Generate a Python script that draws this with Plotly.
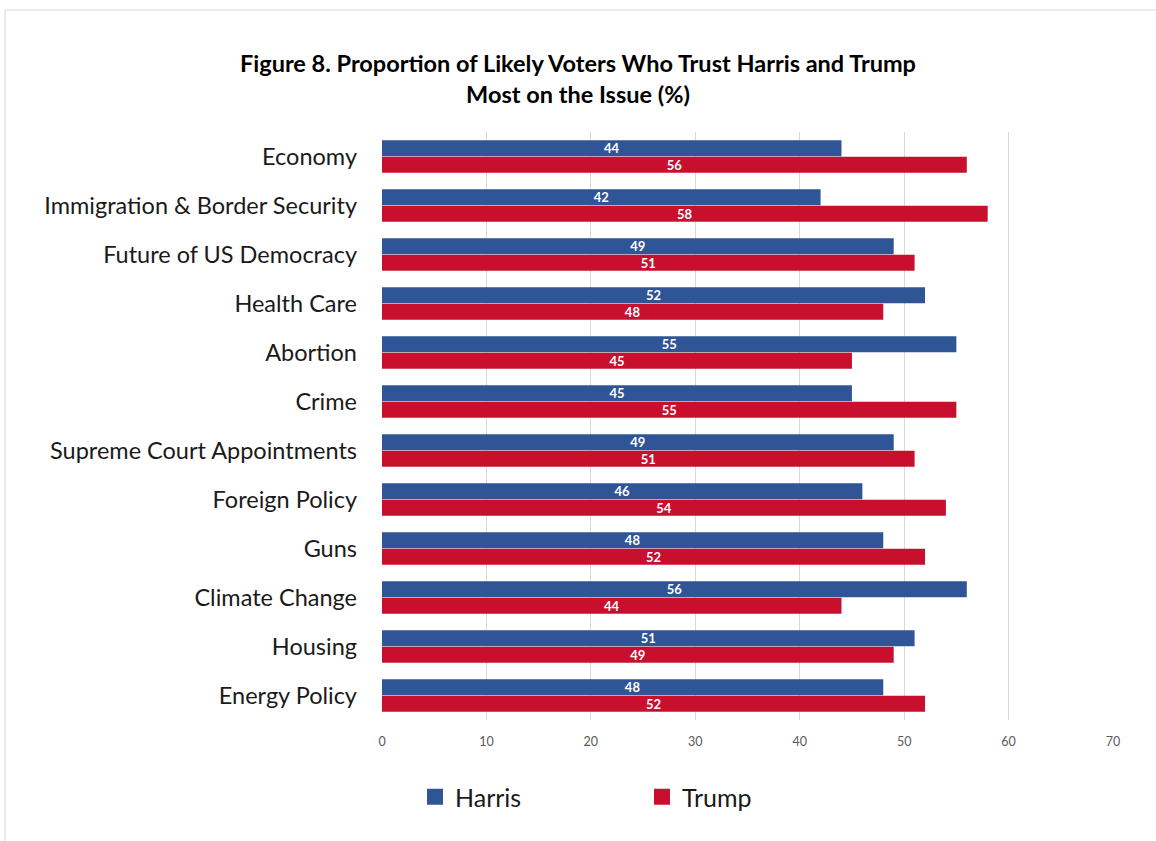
import plotly.graph_objects as go

issues = [
    "Economy", "Immigration & Border Security", "Future of US Democracy",
    "Health Care", "Abortion", "Crime", "Supreme Court Appointments",
    "Foreign Policy", "Guns", "Climate Change", "Housing", "Energy Policy",
]
harris = [44, 42, 49, 52, 55, 45, 49, 46, 48, 56, 51, 48]
trump = [56, 58, 51, 48, 45, 55, 51, 54, 52, 44, 49, 52]
x_ticks = [0, 10, 20, 30, 40, 50, 60, 70]

HARRIS_BLUE = "#2F5597"
TRUMP_RED = "#C8102E"
FONT = "Lato, Open Sans, sans-serif"

W, H = 1156, 841
ML, MR, MT, MB = 382, 43, 132, 121

fig = go.Figure()
for name, vals, color in [("Harris", harris, HARRIS_BLUE), ("Trump", trump, TRUMP_RED)]:
    fig.add_trace(go.Bar(
        name=name, y=issues, x=vals, orientation="h",
        marker=dict(color=color, line=dict(width=0)),
        text=[str(v) for v in vals], textposition="inside", textangle=0,
        insidetextanchor="middle", constraintext="none",
        textfont=dict(family=FONT, size=13, color="white", weight="bold"),
        showlegend=False,
    ))

# legend entries drawn as square swatches
for name, color in [("Harris", HARRIS_BLUE), ("Trump", TRUMP_RED)]:
    fig.add_trace(go.Scatter(
        name=name, x=[None], y=[None], mode="markers",
        marker=dict(symbol="square", size=16, color=color),
        showlegend=True,
    ))

# outer frame of the figure
pw = W - ML - MR
ph = H - MT - MB
px = lambda p: (p - ML) / pw
py = lambda p: (H - MB - p) / ph
fig.add_shape(type="rect", xref="paper", yref="paper",
              x0=px(5), x1=px(W + 20), y0=py(H + 20), y1=py(10),
              line=dict(color="#D9D9D9", width=1), fillcolor="rgba(0,0,0,0)",
              layer="below")

fig.update_layout(
    width=W, height=H,
    margin=dict(l=ML, r=MR, t=MT, b=MB),
    paper_bgcolor="white", plot_bgcolor="white",
    barmode="group", bargap=0.32, bargroupgap=0.04,
    title=dict(
        text="<b>Figure 8. Proportion of Likely Voters Who Trust Harris and Trump<br>Most on the Issue (%)</b>",
        x=0.5, xref="container", xanchor="center", y=1 - 72 / H, yanchor="top",
        font=dict(family=FONT, size=23.5, color="#000000"),
    ),
    xaxis=dict(
        range=[0, 70], tickvals=x_ticks, showgrid=True, gridcolor="#D9D9D9",
        gridwidth=1, zeroline=False, showline=False, ticks="",
        tickfont=dict(family=FONT, size=12.5, color="#595959"),
        ticklabelstandoff=12,
    ),
    yaxis=dict(
        autorange="reversed", showgrid=False, showline=False, ticks="",
        tickfont=dict(family=FONT, size=23.5, color="#1a1a1a"),
        ticklabelstandoff=24,
    ),
    legend=dict(
        orientation="h", x=px(415), xanchor="left", y=py(797), yanchor="middle",
        font=dict(family=FONT, size=25, color="#1a1a1a"),
        entrywidth=182, entrywidthmode="pixels", traceorder="normal",
        itemwidth=30,
    ),
)

fig.write_html("out.html")
